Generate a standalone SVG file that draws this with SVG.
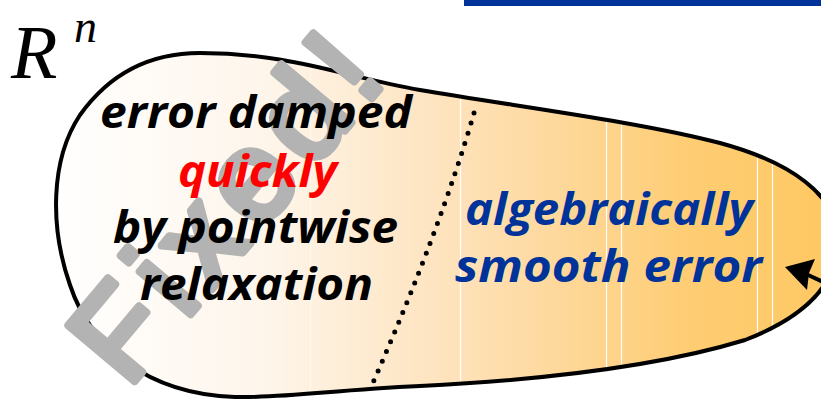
<svg xmlns="http://www.w3.org/2000/svg" width="821" height="401" viewBox="0 0 821 401">
  <defs>
    <linearGradient id="fillGrad" gradientUnits="userSpaceOnUse" x1="50" y1="0" x2="835" y2="0">
      <stop offset="0" stop-color="#FFFFFF"/>
      <stop offset="0.28" stop-color="#FEF5EA"/>
      <stop offset="0.5" stop-color="#FEE3BE"/>
      <stop offset="0.82" stop-color="#FECC72"/>
      <stop offset="1" stop-color="#FEC862"/>
    </linearGradient>
    <path id="blob" d="M 200,53 C 290,53 345,77 420,90 C 520,107 640,122 720,143 C 790,162 838,195 838,240 C 838,280 810,315 745,340 C 660,366 540,380 420,386 C 330,390 290,398 235,397 C 145,394 90,345 70,285 C 50,228 50,160 80,115 C 110,73 150,53 200,53 Z"/>
    <clipPath id="blobClip"><use href="#blob"/></clipPath>
    <style>
      .lbl { font-family: "Open Sans", "DejaVu Sans", sans-serif; font-weight: 700; font-style: italic; font-size: 44px; }
      .blk { fill: #000000; }
      .red { fill: #FF0000; }
      .blu { fill: #003399; }
      .seam { stroke: #FFFFFF; stroke-width: 1.2; }
    </style>
  </defs>

  <rect id="topbar" x="464" y="0" width="357" height="6" fill="#003399"/>

  <g id="title">
    <text x="11" y="78" font-family="'Liberation Serif', serif" font-style="italic" font-size="76" fill="#000">R</text>
    <text x="74" y="42" font-family="'Liberation Serif', serif" font-style="italic" font-size="46" fill="#000">n</text>
  </g>

  <g id="region">
    <use href="#blob" fill="url(#fillGrad)"/>
    <g clip-path="url(#blobClip)">
      <line class="seam" x1="460.5" y1="60" x2="460.5" y2="400"/>
      <line class="seam" x1="606.5" y1="60" x2="606.5" y2="400"/>
      <line class="seam" x1="621.5" y1="60" x2="621.5" y2="400"/>
      <line class="seam" x1="757.5" y1="60" x2="757.5" y2="400"/>
      <line class="seam" x1="772.5" y1="60" x2="772.5" y2="400"/>
      <line x1="310.5" y1="60" x2="310.5" y2="400" stroke="#FFFFFF" stroke-width="1" opacity="0.5"/>
    </g>
    <use href="#blob" fill="none" stroke="#000" stroke-width="4"/>
  </g>

  <g id="connectors">
    <path id="divider" d="M474,113 Q440,230 372,385" fill="none" stroke="#000" stroke-width="5" stroke-linecap="round" stroke-dasharray="0 10.6"/>
    <g id="arrow">
      <line x1="806" y1="274" x2="832" y2="286" stroke="#000" stroke-width="4"/>
      <polygon points="785,267 815,259 809,273 807,290" fill="#000"/>
    </g>
  </g>

  <g id="watermark">
    <text transform="translate(128,389) rotate(-50)" font-family="'Liberation Sans', sans-serif" font-size="126" letter-spacing="12" fill="#B3B3B3" stroke="#B3B3B3" stroke-width="8" stroke-linejoin="round" stroke-linecap="round">Fixed!</text>
  </g>

  <g id="node-fast">
    <text class="lbl blk" x="100" y="128" textLength="312" lengthAdjust="spacingAndGlyphs">error damped</text>
    <text class="lbl red" x="178" y="187" textLength="159" lengthAdjust="spacingAndGlyphs">quickly</text>
    <text class="lbl blk" x="113" y="243" textLength="285" lengthAdjust="spacingAndGlyphs">by pointwise</text>
    <text class="lbl blk" x="140" y="300" textLength="233" lengthAdjust="spacingAndGlyphs">relaxation</text>
  </g>

  <g id="node-smooth">
    <text class="lbl blu" x="465" y="225" textLength="288" lengthAdjust="spacingAndGlyphs">algebraically</text>
    <text class="lbl blu" x="455" y="282" textLength="307" lengthAdjust="spacingAndGlyphs">smooth error</text>
  </g>
</svg>
